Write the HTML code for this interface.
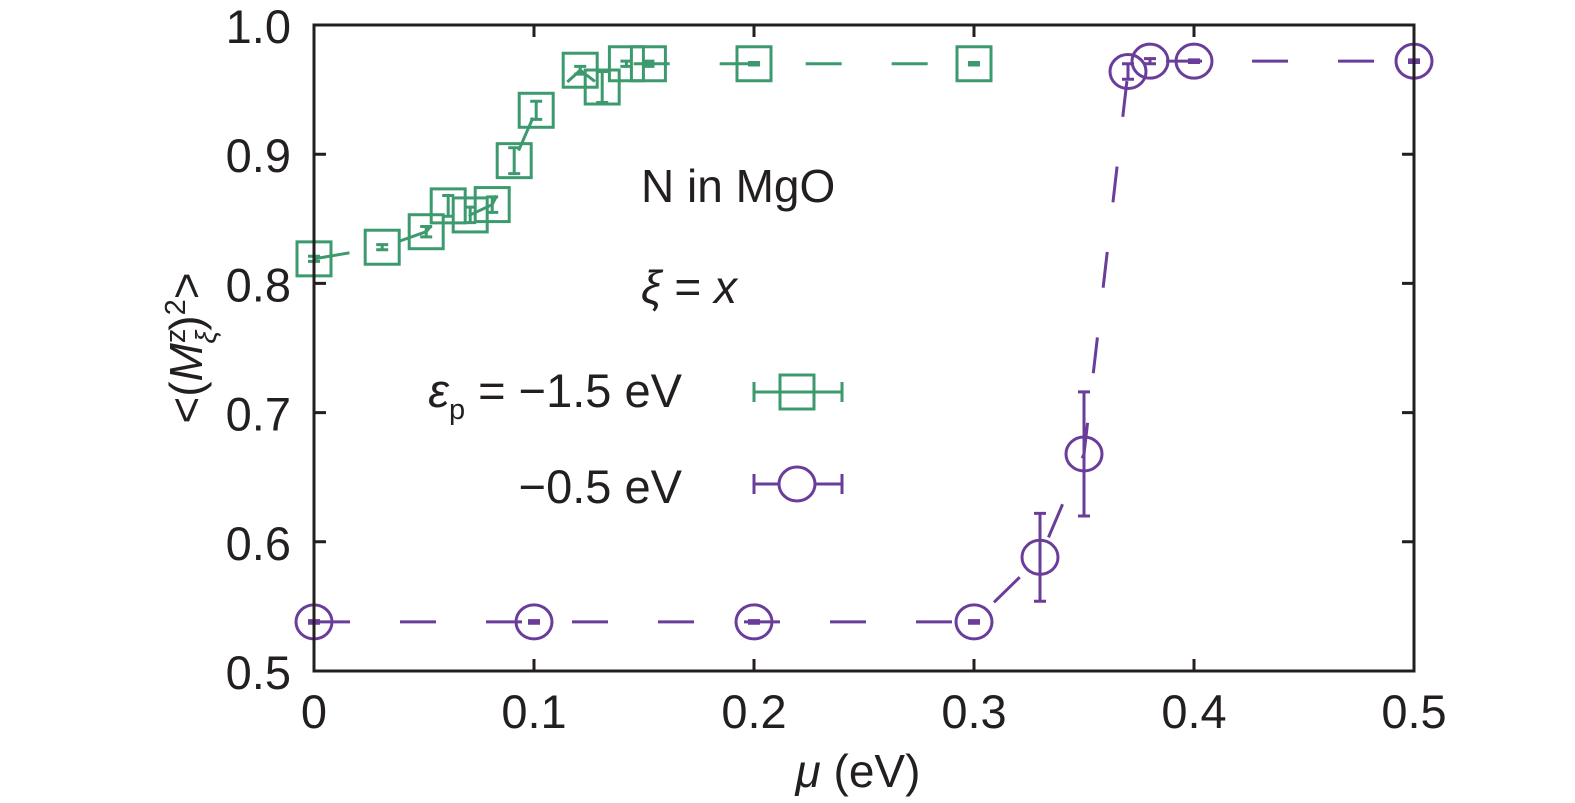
<!DOCTYPE html>
<html><head><meta charset="utf-8"><style>
html,body{margin:0;padding:0;background:#fff;}
svg{display:block;font-family:"Liberation Sans",sans-serif;}
</style></head><body>
<svg id="chart" width="1575" height="803" viewBox="0 0 1575 803">
<g id="plot"></g>
</svg>
<script>
const xTicks=[0,0.1,0.2,0.3,0.4,0.5];
const xTickLabels=["0","0.1","0.2","0.3","0.4","0.5"];
const yTicks=[0.5,0.6,0.7,0.8,0.9,1.0];
const yTickLabels=["0.5","0.6","0.7","0.8","0.9","1.0"];
const greenMu=[0,0.031,0.051,0.061,0.071,0.081,0.091,0.101,0.121,0.131,0.142,0.152,0.2,0.3];
const greenVal=[0.819,0.828,0.840,0.860,0.853,0.861,0.895,0.934,0.965,0.952,0.970,0.970,0.970,0.970];
const greenErr=[0.002,0.002,0.004,0.008,0.006,0.006,0.010,0.007,0.003,0.012,0.002,0.002,0.001,0.001];
const purpleMu=[0,0.1,0.2,0.3,0.33,0.35,0.37,0.38,0.4,0.5];
const purpleVal=[0.538,0.538,0.538,0.538,0.588,0.668,0.964,0.972,0.972,0.972];
const purpleErr=[0.001,0.001,0.001,0.001,0.034,0.048,0.006,0.002,0.001,0.001];

const L=314,R=1414,T=25,B=671;
const X=v=>L+(v-0)/(0.5)*(R-L);
const Y=v=>B-(v-0.5)/(0.5)*(B-T);
const NS="http://www.w3.org/2000/svg";
const g=document.getElementById('plot');
function mk(tag,attrs,parent){const e=document.createElementNS(NS,tag);for(const k in attrs)e.setAttribute(k,attrs[k]);(parent||g).appendChild(e);return e;}
const GREEN="#3c9a6e",PURPLE="#6a3d9a";

function series(mus,vals,errs,color,kind,name){
  const grp=mk('g',{});
  
  
  let d='';
  mus.forEach((m,i)=>{d+=(i?'L':'M')+X(m)+' '+Y(vals[i]);});
  const ln=mk('path',{d:d,fill:'none',stroke:color,'stroke-width':3,'stroke-dasharray':'36 50'},grp);
  
  
  mus.forEach((m,i)=>{
    const cx=X(m),cy=Y(vals[i]);
    const y1=Y(vals[i]+errs[i]),y2=Y(vals[i]-errs[i]);
    const eb=mk('path',{d:`M${cx} ${y1}V${y2}M${cx-6} ${y1}H${cx+6}M${cx-6} ${y2}H${cx+6}`,stroke:color,'stroke-width':3,fill:'none'},grp);
    
    
    let mkr;
    if(kind==='sq') mkr=mk('rect',{x:cx-17,y:cy-17,width:34,height:34,fill:'none',stroke:color,'stroke-width':3},grp);
    else mkr=mk('ellipse',{cx:cx,cy:cy,rx:18,ry:17,fill:'none',stroke:color,'stroke-width':3},grp);
    
    
  });
}
series(greenMu,greenVal,greenErr,GREEN,'sq','series-ep-minus1.5');
series(purpleMu,purpleVal,purpleErr,PURPLE,'ci','series-ep-minus0.5');

const fr=mk('rect',{x:L,y:T,width:R-L,height:B-T,fill:'none',stroke:'#231f20','stroke-width':3});


xTicks.forEach((v,i)=>{
  const x=X(v);
  const t=mk('path',{d:`M${x} ${B}v-12M${x} ${T}v12`,stroke:'#231f20','stroke-width':3});
  
  
  const tx=mk('text',{x:x,y:728,'text-anchor':'middle','font-size':47,fill:'#231f20'});
  tx.textContent=xTickLabels[i];
  
  
});
yTicks.forEach((v,i)=>{
  const y=Y(v);
  const t=mk('path',{d:`M${L} ${y}h12M${R} ${y}h-12`,stroke:'#231f20','stroke-width':3});
  
  
  const tx=mk('text',{x:291,y:y+18,'text-anchor':'end','font-size':47,fill:'#231f20'});
  tx.textContent=yTickLabels[i];
  
  
});
</script>
<svg style="position:absolute;left:0;top:0" width="1575" height="803">
<text x="858" y="787" text-anchor="middle" font-size="46" fill="#231f20" font-family="Liberation Sans, sans-serif"><tspan font-style="italic">μ</tspan> (eV)</text>
<text transform="translate(202,348) rotate(-90)" text-anchor="middle" font-size="46" fill="#231f20" font-family="Liberation Sans, sans-serif">&lt;(<tspan font-style="italic">M</tspan><tspan font-size="29" dy="-17">z</tspan><tspan font-size="29" font-style="italic" dx="-15" dy="31">ξ</tspan><tspan dy="-14">)</tspan><tspan font-size="29" dy="-17">2</tspan><tspan dy="17">&gt;</tspan></text>
<text x="641" y="202" font-size="46" fill="#231f20" font-family="Liberation Sans, sans-serif">N in MgO</text>
<text x="641" y="303" font-size="46" fill="#231f20" font-family="Liberation Sans, sans-serif"><tspan font-style="italic">ξ</tspan> = <tspan font-style="italic">x</tspan></text>
<g font-family="Liberation Sans, sans-serif" font-size="47" fill="#231f20">
<text x="682" y="407" text-anchor="end"><tspan font-style="italic">ε</tspan><tspan font-size="29" dy="12">p</tspan><tspan dy="-12"> = −1.5 eV</tspan></text>
<g stroke="#3c9a6e" stroke-width="3" fill="none">
<path d="M754 392H842M754 382v20M842 382v20"/><rect x="780" y="375" width="34" height="34"/></g>
<text x="682" y="503" text-anchor="end">−0.5 eV</text>
<g stroke="#6a3d9a" stroke-width="3" fill="none">
<path d="M754 484H842M754 474v20M842 474v20"/><ellipse cx="797" cy="484" rx="18" ry="17" fill="#fff"/></g>
</g>
</svg>
</body></html>
